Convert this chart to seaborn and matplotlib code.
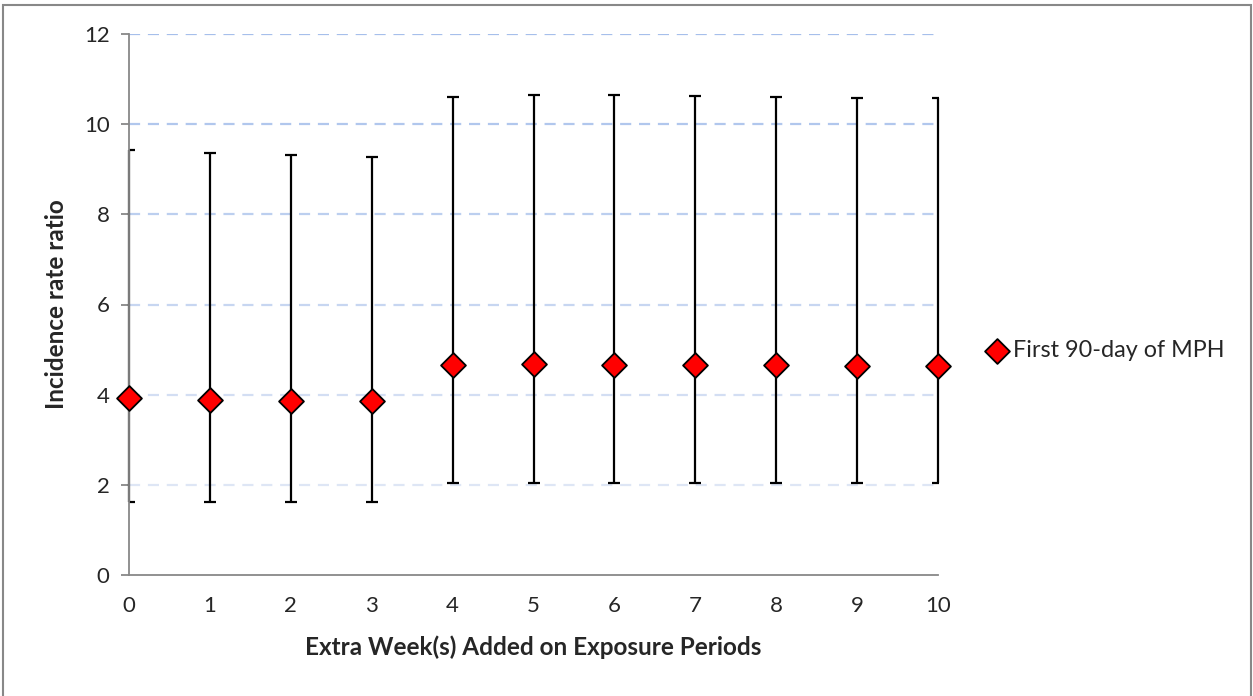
import numpy as np
import pandas as pd
import matplotlib.pyplot as plt
import seaborn as sns
from matplotlib.patches import Rectangle

# Valores
semanas = [0, 1, 2, 3, 4, 5, 6, 7, 8, 9, 10]
irr = [3.93, 3.88, 3.87, 3.86, 4.65, 4.67, 4.66, 4.66, 4.65, 4.64, 4.63]
ic_inf = [1.63, 1.62, 1.61, 1.61, 2.03, 2.04, 2.04, 2.04, 2.04, 2.03, 2.03]
ic_sup = [9.43, 9.35, 9.31, 9.28, 10.60, 10.65, 10.64, 10.63, 10.61, 10.59, 10.57]
etiqueta = "First 90-day of MPH"

df = pd.DataFrame({"semana": semanas, "irr": irr, "inf": ic_inf, "sup": ic_sup})

sns.set_style("white")
plt.rcParams["font.family"] = ["Lato", "DejaVu Sans"]

fig = plt.figure(figsize=(12.53, 6.96), dpi=100)
ax = fig.add_axes([129 / 1253, 1 - 575 / 696, (938 - 129) / 1253, (575 - 34) / 696])

# lineas de la cuadricula punteadas, mas claras abajo
for v in [2, 4, 6, 8, 10, 12]:
    t = (v - 2) / 10
    c = (0.87 - 0.22 * t, 0.90 - 0.15 * t, 0.96 - 0.04 * t)
    ax.axhline(v, color=c, lw=1.6, ls=(0, (5, 3.5)), zorder=0)

eb = ax.errorbar(df["semana"], df["irr"],
                 yerr=[df["irr"] - df["inf"], df["sup"] - df["irr"]],
                 fmt="none", ecolor="black", elinewidth=1.6, capsize=4.5, capthick=1.6, zorder=2)
# las barras verticales no se recortan, los topes si
for col in eb.lines[2]:
    col.set_clip_on(False)

sns.scatterplot(data=df, x="semana", y="irr", marker="D", s=160, color="#ff0000",
                edgecolor="black", linewidth=1.3, label=etiqueta, zorder=3, ax=ax, clip_on=False)

ax.set_xlim(0, 10)
ax.set_ylim(0, 12)
ax.set_xticks(semanas)
ax.set_yticks([0, 2, 4, 6, 8, 10, 12])
ax.tick_params(axis="y", length=6, width=1.3, color="#888888", labelsize=16, pad=8, left=True)
ax.tick_params(axis="x", length=0, labelsize=16, pad=15)
for s in ["top", "right"]:
    ax.spines[s].set_visible(False)
for s in ["left", "bottom"]:
    ax.spines[s].set_color("#888888")
    ax.spines[s].set_linewidth(1.3)

ax.set_xlabel("Extra Week(s) Added on Exposure Periods", fontsize=17.5, fontweight="bold")
ax.set_ylabel("Incidence rate ratio", fontsize=17.5, fontweight="bold")
ax.xaxis.set_label_coords(0.5, -0.112)
ax.yaxis.set_label_coords(-0.076, 0.5)

leg = ax.legend(loc="center left", bbox_to_anchor=(0.7865, 0.496), bbox_transform=fig.transFigure,
                frameon=False, fontsize=16.8, handlelength=1.0, handletextpad=0.2, borderaxespad=0,
                borderpad=0)

# borde del area del grafico
fig.patches.append(Rectangle((3 / 1253, -0.01), 1248 / 1253, 1 - 5 / 696 + 0.01,
                             transform=fig.transFigure, fill=False, edgecolor="#888888", lw=1.5))

plt.savefig("out.png", dpi=100)
